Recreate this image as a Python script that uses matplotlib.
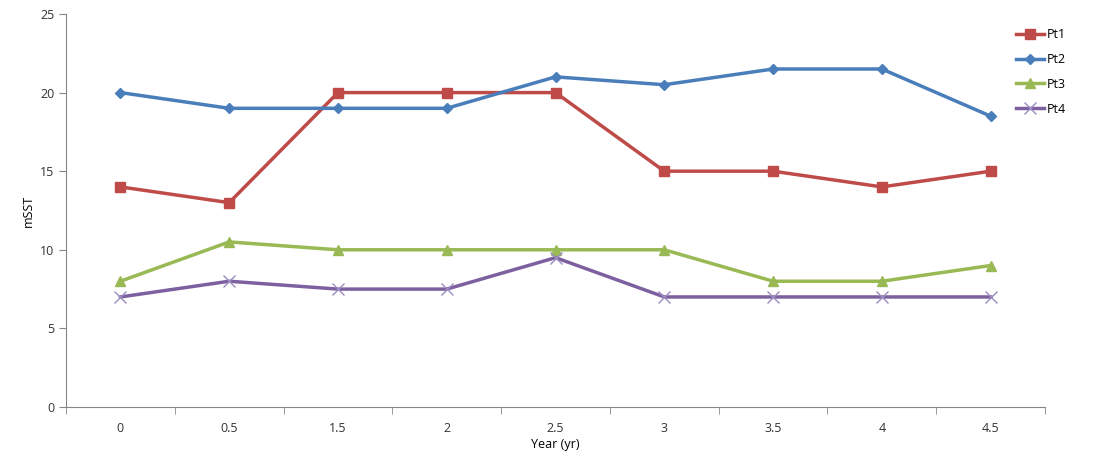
import matplotlib
matplotlib.use("Agg")
import matplotlib.pyplot as plt
import numpy as np

years = ["0", "0.5", "1.5", "2", "2.5", "3", "3.5", "4", "4.5"]
pt1 = [14, 13, 20, 20, 20, 15, 15, 14, 15]
pt2 = [20, 19, 19, 19, 21, 20.5, 21.5, 21.5, 18.5]
pt3 = [8, 10.5, 10, 10, 10, 10, 8, 8, 9]
pt4 = [7, 8, 7.5, 7.5, 9.5, 7, 7, 7, 7]

plt.rcParams['font.family'] = ['Open Sans', 'DejaVu Sans']

fig = plt.figure(figsize=(11.04, 4.57), dpi=100)
ax = fig.add_axes([0.0598, 0.1094, 0.8868, 0.86])

x = np.arange(len(years))
ax.plot(x, pt1, color='#BE4B48', lw=2.5, marker='s', ms=7, label='Pt1')
ax.plot(x, pt2, color='#4A7EBB', lw=2.5, marker='D', ms=5, label='Pt2')
ax.plot(x, pt3, color='#98B954', lw=2.5, marker='^', ms=7, label='Pt3')
ax.plot(x, pt4, color='#7D60A0', lw=2.5, marker='x', ms=8, mew=1,
        mec='#9A8CC0', label='Pt4')

ax.set_xlim(-0.5, len(years) - 0.5)
ax.set_ylim(0, 25)
ax.set_yticks(range(0, 26, 5))
ax.set_xticks(x)
ax.set_xticklabels(years)
ax.set_xticks(np.arange(-0.5, len(years), 1), minor=True)
ax.tick_params(axis='x', which='major', length=0, pad=11, labelsize=9, colors='#333333')
ax.tick_params(axis='x', which='minor', length=5, color='#868686')
ax.tick_params(axis='y', length=5, color='#868686', labelsize=9, labelcolor='#333333')

for s in ['top', 'right']:
    ax.spines[s].set_visible(False)
for s in ['left', 'bottom']:
    ax.spines[s].set_color('#868686')

ax.set_xlabel('Year (yr)', fontsize=9, labelpad=2)
ax.set_ylabel('mSST', fontsize=9)

fig.legend(loc='upper left', bbox_to_anchor=(1016 / 1104, 1 - 28 / 457),
           frameon=False, fontsize=9, handlelength=2.2, labelspacing=0.95,
           handletextpad=0.3, borderpad=0, borderaxespad=0)

fig.savefig('out.png', dpi=100)
